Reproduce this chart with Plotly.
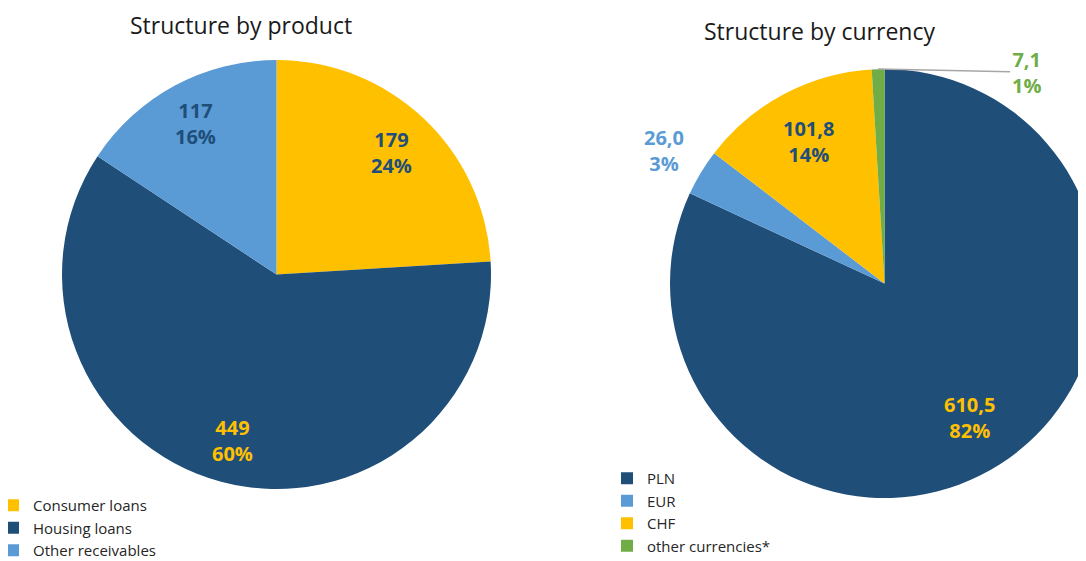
import math
import plotly.graph_objects as go

# data
product_labels = ["Consumer loans", "Housing loans", "Other receivables"]
product_values = [179, 449, 117]
product_pct = ["24%", "60%", "16%"]

currency_labels = ["PLN", "EUR", "CHF", "other currencies*"]
currency_values = [610.5, 26.0, 101.8, 7.1]
currency_text = ["610,5", "26,0", "101,8", "7,1"]
currency_pct = ["82%", "3%", "14%", "1%"]

YELLOW = "#FFC000"
DARK = "#1F4E79"
LIGHT = "#5B9BD5"
GREEN = "#70AD47"

W, H = 1100, 561
OFF = 8  # page body margin
FONT = "Open Sans"


def fx(px):
    return (px - OFF) / W


def fy(py):
    return 1 - (py - OFF) / H


fig = go.Figure()

# pixel boxes of the two pies (screen coords)
left_dom = (62, 491, 60, 489)
right_dom = (670, 1099, 69, 498)


def to_domain(d):
    x0, x1, y0, y1 = d
    return dict(x=[fx(x0), fx(x1)], y=[fy(y1), fy(y0)])


fig.add_trace(go.Pie(
    labels=product_labels, values=product_values, sort=False,
    direction="clockwise", rotation=0, textinfo="none", hoverinfo="label+value",
    marker=dict(colors=[YELLOW, DARK, LIGHT], line=dict(width=0)),
    domain=to_domain(left_dom), legend="legend",
))
fig.add_trace(go.Pie(
    labels=currency_labels, values=currency_values, sort=False,
    direction="clockwise", rotation=0, textinfo="none", hoverinfo="label+value",
    marker=dict(colors=[DARK, LIGHT, YELLOW, GREEN], line=dict(width=0)),
    domain=to_domain(right_dom), legend="legend2",
))


def slice_points(values, dom, frac):
    # point on the bisector of each slice, at frac * radius
    x0, x1, y0, y1 = dom
    cx, cy = (x0 + x1) / 2, (y0 + y1) / 2
    r = min(x1 - x0, y1 - y0) / 2
    total = sum(values)
    pts = []
    acc = 0
    for v, f in zip(values, frac):
        mid = (acc + v / 2) / total * 2 * math.pi
        acc += v
        pts.append((cx + f * r * math.sin(mid), cy - f * r * math.cos(mid)))
    return pts


label_font = dict(family=FONT, size=20)

# left pie labels
left_colors = [DARK, YELLOW, DARK]
for (px, py), v, p, c in zip(slice_points(product_values, left_dom, [0.78, 0.8, 0.8]),
                            product_values, product_pct, left_colors):
    fig.add_annotation(x=fx(px), y=fy(py), xref="paper", yref="paper",
                       xanchor="center", yanchor="middle",
                       text=f"<b>{v}<br>{p}</b>", showarrow=False,
                       font=dict(label_font, color=c))

# right pie labels
right_colors = [YELLOW, LIGHT, DARK, GREEN]
pts = slice_points(currency_values, right_dom, [0.74, 1.2, 0.75, 1.0])
for i, ((px, py), t, p, c) in enumerate(zip(pts, currency_text, currency_pct, right_colors)):
    if i == 3:
        # small slice: label outside with a leader line
        fig.add_annotation(x=fx(px), y=fy(py), xref="paper", yref="paper",
                           text=f"<b>{t}<br>{p}</b>", showarrow=True, arrowhead=0,
                           arrowwidth=1.5, arrowcolor="#A6A6A6", ax=148, ay=3,
                           font=dict(label_font, color=c))
    else:
        fig.add_annotation(x=fx(px), y=fy(py), xref="paper", yref="paper",
                           xanchor="center", yanchor="middle",
                           text=f"<b>{t}<br>{p}</b>", showarrow=False,
                           font=dict(label_font, color=c))

# titles
fig.add_annotation(x=fx(241), y=fy(25), xref="paper", yref="paper",
                   xanchor="center", yanchor="middle",
                   text="Structure by product", showarrow=False,
                   font=dict(family=FONT, size=23, color="#1a1a1a"))
fig.add_annotation(x=fx(819), y=fy(31), xref="paper", yref="paper",
                   xanchor="center", yanchor="middle",
                   text="Structure by currency", showarrow=False,
                   font=dict(family=FONT, size=23, color="#1a1a1a"))

fig.update_layout(
    width=W, height=H,
    margin=dict(l=0, r=0, t=0, b=0, autoexpand=False),
    paper_bgcolor="white", plot_bgcolor="white",
    showlegend=True,
    legend=dict(x=fx(-7), y=fy(489), xanchor="left", yanchor="top",
                itemwidth=30,
                font=dict(family=FONT, size=15, color="#262626"),
                bgcolor="rgba(0,0,0,0)"),
    legend2=dict(x=fx(607), y=fy(462), xanchor="left", yanchor="top",
                 itemwidth=30,
                 font=dict(family=FONT, size=15, color="#262626"),
                 bgcolor="rgba(0,0,0,0)"),
)

fig.write_html("out.html")
